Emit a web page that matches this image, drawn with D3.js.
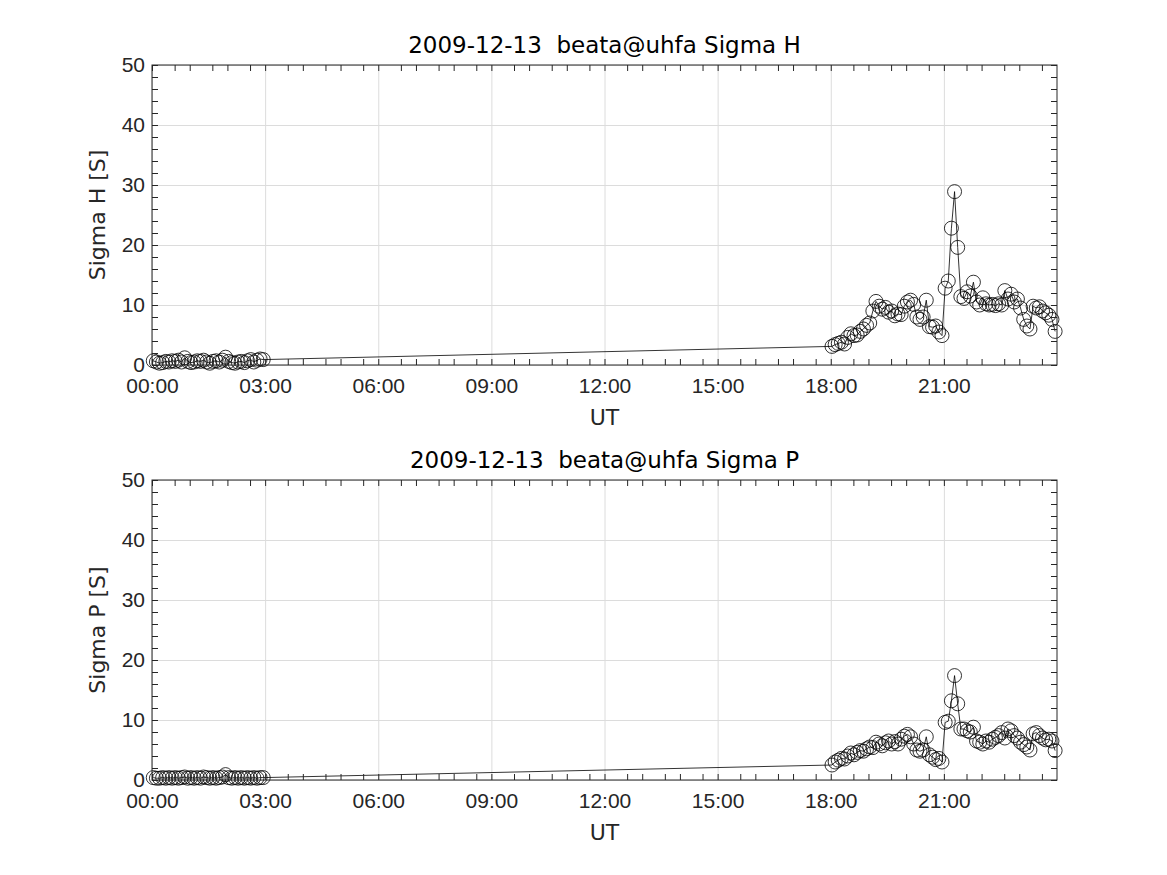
<!DOCTYPE html>
<html>
<head>
<meta charset="utf-8">
<script src="https://cdn.jsdelivr.net/npm/d3@7"></script>
<style>
  body { margin: 0; background: #fff; }
  svg { font-family: "DejaVu Sans", sans-serif; }
  .grid line { stroke: #dcdcdc; stroke-width: 1; }
  .grid .domain { display: none; }
  .tk line { stroke: #262626; }
  .tk .domain { display: none; }
  .lbl text { fill: #262626; font-size: 21px; }
  .lbl .domain, .lbl line { display: none; }
</style>
</head>
<body>
<div class="chart-box"></div>
<script>
var day = "2009-12-13";

var times_am = ["00:02","00:07","00:12","00:17","00:22","00:27","00:32","00:37","00:42","00:47","00:52","00:57",
                "01:02","01:07","01:12","01:17","01:22","01:27","01:32","01:37","01:42","01:47","01:52","01:57",
                "02:02","02:07","02:12","02:17","02:22","02:27","02:32","02:37","02:42","02:47","02:52","02:57"];
var times_pm = ["18:02","18:07","18:12","18:17","18:22","18:27","18:32","18:37","18:42","18:47","18:52","18:57",
                "19:02","19:07","19:12","19:17","19:22","19:27","19:32","19:37","19:42","19:47","19:52","19:57",
                "20:02","20:07","20:12","20:17","20:22","20:27","20:32","20:37","20:42","20:47","20:52","20:57",
                "21:02","21:07","21:12","21:17","21:22","21:27","21:32","21:37","21:42","21:47","21:52","21:57",
                "22:02","22:07","22:12","22:17","22:22","22:27","22:32","22:37","22:42","22:47","22:52","22:57",
                "23:02","23:07","23:12","23:17","23:22","23:27","23:32","23:37","23:42","23:47","23:52","23:57"];

var sigma_h_am = [0.7,0.5,0.3,0.4,0.6,0.5,0.7,0.6,0.8,0.5,1.2,0.6,0.4,0.5,0.7,0.6,0.8,0.5,
                  0.3,0.6,0.7,0.5,0.8,1.3,0.6,0.4,0.3,0.5,0.6,0.4,0.7,0.9,0.5,0.8,1.0,0.9];
var sigma_h_pm = [3.1,3.4,3.6,3.8,3.5,4.6,5.2,4.9,5.0,5.6,6.0,6.6,
                  7.0,9.0,10.6,9.8,9.3,9.6,8.8,9.0,8.2,8.5,8.4,9.8,
                  10.5,10.8,10.1,8.0,7.6,8.0,10.8,6.4,6.3,6.5,5.5,4.9,
                  12.8,14.0,22.8,28.9,19.6,11.4,11.1,12.2,11.5,13.8,10.5,10.0,
                  11.2,10.2,10.0,10.1,9.9,10.2,10.0,12.4,11.0,11.8,10.5,11.0,
                  9.5,7.6,6.5,6.0,9.8,9.5,9.7,9.0,8.7,8.3,7.6,5.6];

var sigma_p_am = [0.4,0.3,0.3,0.4,0.3,0.4,0.3,0.4,0.3,0.4,0.5,0.3,0.4,0.3,0.4,0.3,0.5,0.4,
                  0.3,0.4,0.3,0.4,0.5,0.9,0.4,0.3,0.4,0.3,0.4,0.3,0.4,0.3,0.4,0.3,0.4,0.4];
var sigma_p_pm = [2.5,3.0,3.3,3.6,3.5,4.0,4.5,4.2,4.6,4.9,4.8,5.2,
                  5.5,5.4,6.3,6.0,5.7,6.2,6.5,6.0,6.4,6.0,6.8,7.3,
                  7.6,7.2,6.0,5.0,4.8,5.0,7.2,4.2,3.8,3.4,3.6,3.0,
                  9.6,9.8,13.2,17.4,12.7,8.5,8.5,8.2,8.0,8.8,6.5,6.3,
                  6.0,6.5,6.3,6.8,7.1,7.4,7.9,7.0,8.5,8.2,7.4,7.0,
                  6.3,5.9,5.5,5.0,7.7,7.9,7.4,7.0,6.7,6.8,6.5,4.9];

var x_ticks = ["00:00","03:00","06:00","09:00","12:00","15:00","18:00","21:00"];
var y_ticks = [0, 10, 20, 30, 40, 50];

var panels = [
  {title: day + "  beata@uhfa Sigma H", ylabel: "Sigma H [S]", am: sigma_h_am, pm: sigma_h_pm, top: 65},
  {title: day + "  beata@uhfa Sigma P", ylabel: "Sigma P [S]", am: sigma_p_am, pm: sigma_p_pm, top: 480}
];

var chart_width = 1167, chart_height = 875;
var plot_left = 152, plot_width = 905, plot_height = 300;

var parse_time = d3.utcParse("%Y-%m-%d %H:%M");
var t0 = parse_time(day + " 00:00");
var t1 = d3.utcDay.offset(t0, 1);

var svg = d3.select(".chart-box").append("svg")
    .attr("width", chart_width)
    .attr("height", chart_height);

var x = d3.scaleUtc()
    .domain([t0, t1])
    .range([0, plot_width]);

var y = d3.scaleLinear()
    .domain([0, 50])
    .range([plot_height, 0]);

var x_major = x_ticks.map(function(s) { return parse_time(day + " " + s); });
var x_minor = d3.utcMinute.every(36).range(t0, t1);
var y_minor = d3.range(0, 51, 2);

function draw_panel(p) {
  var g = svg.append("g")
      .attr("transform", "translate(" + plot_left + "," + p.top + ")");

  g.append("g")
      .attr("class", "grid")
      .attr("transform", "translate(0," + plot_height + ")")
      .call(d3.axisBottom(x).tickValues(x_major).tickSize(-plot_height).tickFormat(""));
  g.append("g")
      .attr("class", "grid")
      .call(d3.axisLeft(y).tickValues(y_ticks).tickSize(-plot_width).tickFormat(""));

  var pts = p.am.map(function(v, i) { return {t: parse_time(day + " " + times_am[i]), v: v}; })
    .concat(p.pm.map(function(v, i) { return {t: parse_time(day + " " + times_pm[i]), v: v}; }));

  g.append("path")
      .datum(pts)
      .attr("fill", "none")
      .attr("stroke", "#000")
      .attr("stroke-width", 0.8)
      .attr("d", d3.line()
        .x(function(d) { return x(d.t); })
        .y(function(d) { return y(d.v); }));

  g.selectAll(".dot")
      .data(pts)
    .enter().append("circle")
      .attr("class", "dot")
      .attr("cx", function(d) { return x(d.t); })
      .attr("cy", function(d) { return y(d.v); })
      .attr("r", 7)
      .attr("fill", "none")
      .attr("stroke", "#000")
      .attr("stroke-width", 0.8);

  // inward ticks on all four sides
  g.append("g").attr("class", "tk")
      .attr("transform", "translate(0," + plot_height + ")")
      .call(d3.axisBottom(x).tickValues(x_minor).tickSize(-6).tickFormat(""));
  g.append("g").attr("class", "tk")
      .call(d3.axisTop(x).tickValues(x_minor).tickSize(-6).tickFormat(""));
  g.append("g").attr("class", "tk")
      .call(d3.axisLeft(y).tickValues(y_minor).tickSize(-6).tickFormat(""));
  g.append("g").attr("class", "tk")
      .attr("transform", "translate(" + plot_width + ",0)")
      .call(d3.axisRight(y).tickValues(y_minor).tickSize(-6).tickFormat(""));

  g.append("g").attr("class", "lbl")
      .attr("transform", "translate(0," + plot_height + ")")
      .call(d3.axisBottom(x).tickValues(x_major).tickSize(0).tickPadding(13)
        .tickFormat(d3.utcFormat("%H:%M")));
  g.append("g").attr("class", "lbl")
      .call(d3.axisLeft(y).tickValues(y_ticks).tickSize(0).tickPadding(7));

  g.append("rect")
      .attr("width", plot_width)
      .attr("height", plot_height)
      .attr("fill", "none")
      .attr("stroke", "#262626")
      .attr("stroke-width", 1);

  g.append("text")
      .attr("x", plot_width / 2)
      .attr("y", -12)
      .attr("text-anchor", "middle")
      .style("font-size", "23px")
      .style("white-space", "pre")
      .style("fill", "#000")
      .text(p.title);

  g.append("text")
      .attr("x", plot_width / 2)
      .attr("y", plot_height + 60)
      .attr("text-anchor", "middle")
      .style("font-size", "22px")
      .style("fill", "#262626")
      .text("UT");

  g.append("text")
      .attr("transform", "translate(-47," + (plot_height / 2) + ") rotate(-90)")
      .attr("text-anchor", "middle")
      .style("font-size", "22px")
      .style("fill", "#262626")
      .text(p.ylabel);
}

panels.forEach(draw_panel);
</script>
</body>
</html>
